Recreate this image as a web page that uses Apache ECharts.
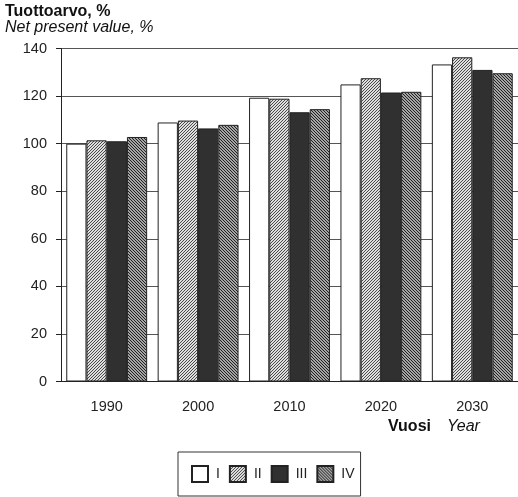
<!DOCTYPE html>
<html><head><meta charset="utf-8">
<script src="https://cdn.jsdelivr.net/npm/echarts@6/dist/echarts.min.js"></script>
<style>html,body{margin:0;padding:0;background:#fff}#c{width:518px;height:497px}</style>
</head><body><div id="c"></div>
<script>
var categories = ['1990', '2000', '2010', '2020', '2030'];
var seriesNames = ['I', 'II', 'III', 'IV'];
var valuesI = [100, 108.9, 119.3, 124.9, 133.3];
var valuesII = [101.4, 109.7, 118.9, 127.5, 136.3];
var valuesIII = [101.0, 106.4, 113.2, 121.5, 131.0];
var valuesIV = [102.8, 107.9, 114.5, 121.8, 129.6];
var yTicks = [0, 20, 40, 60, 80, 100, 120, 140];

var FONT = '"Liberation Sans", Arial, Helvetica, sans-serif';

function hatch(n, darkCount, dir, dark, light) {
  var c = document.createElement('canvas');
  c.width = n; c.height = n;
  var ctx = c.getContext('2d');
  for (var x = 0; x < n; x++) {
    for (var y = 0; y < n; y++) {
      var k = dir > 0 ? (x + y) % n : ((x - y) % n + n) % n;
      ctx.fillStyle = k < darkCount ? dark : light;
      ctx.fillRect(x, y, 1, 1);
    }
  }
  return { image: c, repeat: 'repeat' };
}

var fills = [
  '#ffffff',
  hatch(3, 1, 1, '#4a4a4a', '#dedede'),
  '#303030',
  hatch(3, 1, -1, '#222222', '#a4a4a4')
];
var allValues = [valuesI, valuesII, valuesIII, valuesIV];

var chart = echarts.init(document.getElementById('c'), null, { renderer: 'canvas' });

var series = seriesNames.map(function (name, i) {
  return {
    name: name,
    type: 'bar',
    data: allValues[i],
    barGap: '0%',
    barCategoryGap: '11.5%',
    itemStyle: { color: fills[i], borderColor: '#222', borderWidth: 1 },
    emphasis: { disabled: true },
    animation: false
  };
});

chart.setOption({
  animation: false,
  grid: { left: 61, right: 0, top: 48.5, bottom: 115.5, containLabel: false },
  xAxis: {
    type: 'category',
    data: categories,
    axisLine: { lineStyle: { color: '#222', width: 1 } },
    axisTick: { show: false },
    axisLabel: { color: '#222', fontSize: 14.5, fontFamily: FONT, margin: 18 },
    splitLine: { show: false }
  },
  yAxis: {
    type: 'value',
    min: yTicks[0],
    max: yTicks[yTicks.length - 1],
    interval: 20,
    axisLine: { show: true, lineStyle: { color: '#222', width: 1 } },
    axisTick: { show: true, length: 5, lineStyle: { color: '#222' } },
    axisLabel: { color: '#222', fontSize: 14.5, fontFamily: FONT, margin: 14 },
    splitLine: { show: true, lineStyle: { color: '#555', width: 1 } }
  },
  legend: {
    data: seriesNames,
    left: 178,
    top: 452,
    orient: 'horizontal',
    icon: 'rect',
    itemWidth: 16,
    itemHeight: 16,
    itemGap: 9,
    padding: [13, 6, 13, 13],
    borderColor: '#333',
    borderWidth: 1,
    selectedMode: false,
    textStyle: { color: '#222', fontSize: 14, fontFamily: FONT, width: 20, padding: [0, 0, 0, 3] }
  },
  graphic: [
    { type: 'text', left: 5, top: 4, style: { text: 'Tuottoarvo, %', font: 'bold 16px ' + FONT, fill: '#111' } },
    { type: 'text', left: 5, top: 20, style: { text: 'Net present value, %', font: 'italic 16px ' + FONT, fill: '#111' } },
    { type: 'text', left: 388, top: 419, style: { text: 'Vuosi', font: 'bold 16px ' + FONT, fill: '#111' } },
    { type: 'text', left: 447, top: 419, style: { text: 'Year', font: 'italic 16px ' + FONT, fill: '#111' } }
  ],
  series: series
});
</script>
</body></html>
